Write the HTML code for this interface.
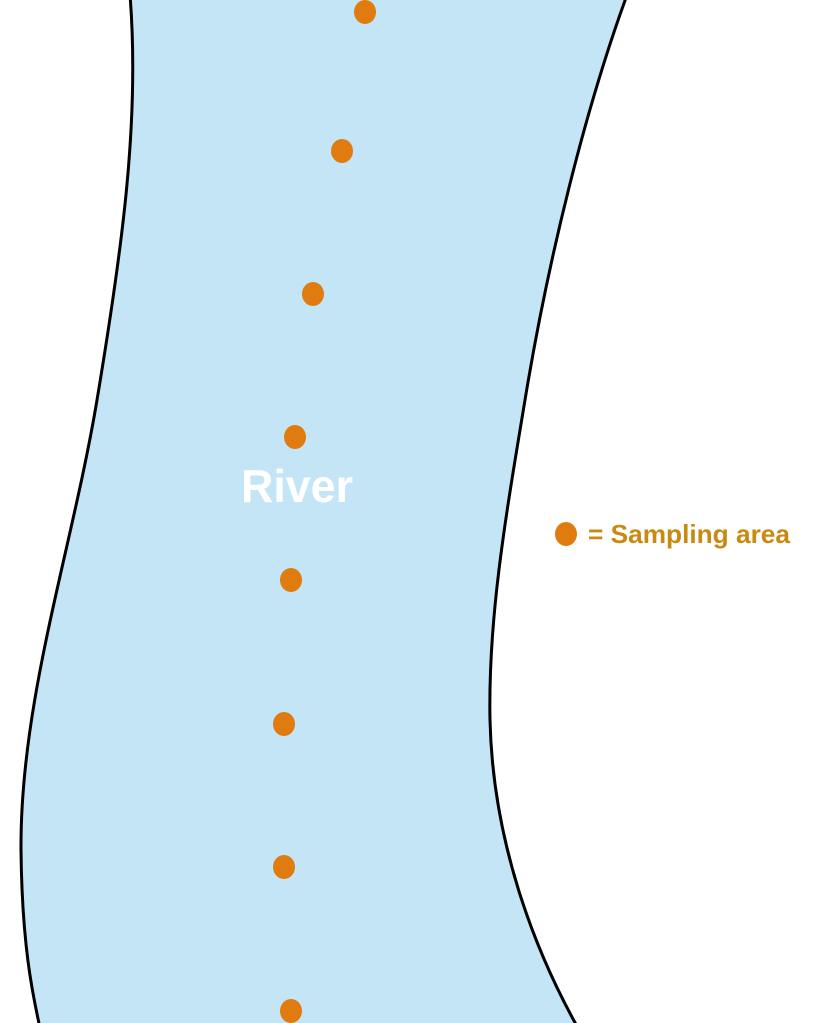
<!DOCTYPE html>
<html><head><style>html,body{margin:0;padding:0;background:#fff;}svg{display:block}</style></head>
<body>
<svg width="834" height="1023" viewBox="0 0 834 1023" xmlns="http://www.w3.org/2000/svg">
<path d="M130,-5 C140,120 122,250 97,400 C72,550 20,700 21,850 C22,950 34,1000 40,1028 L578,1028 C540,960 493,850 490,720 C488,620 505,520 525,400 C548,260 585,110 627,-5 Z" fill="#c3e5f6"/>
<path d="M130,-5 C140,120 122,250 97,400 C72,550 20,700 21,850 C22,950 34,1000 40,1028" fill="none" stroke="#000" stroke-width="3"/>
<path d="M578,1028 C540,960 493,850 490,720 C488,620 505,520 525,400 C548,260 585,110 627,-5" fill="none" stroke="#000" stroke-width="3"/>
<g fill="#e07b10">
<ellipse cx="365" cy="12" rx="11" ry="12"/>
<ellipse cx="342" cy="151" rx="11" ry="12"/>
<ellipse cx="313" cy="294" rx="11" ry="12"/>
<ellipse cx="295" cy="437" rx="11" ry="12"/>
<ellipse cx="291" cy="580" rx="11" ry="12"/>
<ellipse cx="284" cy="724" rx="11" ry="12"/>
<ellipse cx="284" cy="867" rx="11" ry="12"/>
<ellipse cx="291" cy="1011" rx="11" ry="12"/>
<ellipse cx="566" cy="534" rx="11" ry="12"/>
</g>
<text x="297" y="502" text-anchor="middle" font-family="Liberation Sans, sans-serif" font-weight="bold" font-size="46" fill="#fff" textLength="112" lengthAdjust="spacingAndGlyphs">River</text>
<text x="588" y="543" font-family="Liberation Sans, sans-serif" font-weight="bold" font-size="26" fill="#c98a12" textLength="202" lengthAdjust="spacingAndGlyphs">= Sampling area</text>
</svg>
</body></html>
